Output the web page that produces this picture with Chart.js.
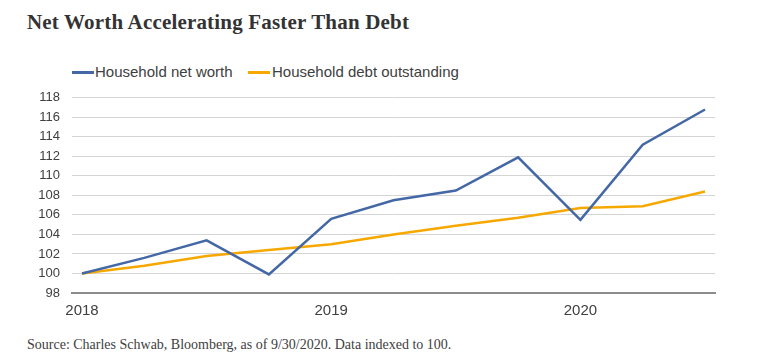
<!DOCTYPE html>
<html>
<head>
<meta charset="utf-8">
<script src="https://cdn.jsdelivr.net/npm/chart.js@4.4.0/dist/chart.umd.min.js"></script>
<style>
  html, body { margin: 0; padding: 0; background: #ffffff; }
  body { width: 770px; height: 356px; position: relative; overflow: hidden; }
  #title { position: absolute; left: 27px; top: 12px; font-family: "Liberation Serif", "DejaVu Serif", serif; font-weight: bold; font-size: 21px; letter-spacing: 0.18px; line-height: 21px; color: #333333; white-space: nowrap; }
  #legend { position: absolute; left: 0; top: 64px; height: 16px; font-family: "Liberation Sans", Arial, sans-serif; font-size: 15px; line-height: 15px; color: #404040; white-space: nowrap; }
  .lg { position: absolute; top: 0; }
  .sw { position: absolute; top: 7px; width: 22px; height: 2.5px; }
  #source { position: absolute; left: 27px; top: 338px; font-family: "Liberation Serif", "DejaVu Serif", serif; font-size: 14px; line-height: 14px; color: #404040; white-space: nowrap; }
  #wrap { position: absolute; left: 0; top: 78px; width: 770px; height: 252px; }
</style>
</head>
<body>
<div id="title">Net Worth Accelerating Faster Than Debt</div>
<div id="legend"></div>
<div id="wrap"><canvas id="c"></canvas></div>
<div id="source">Source: Charles Schwab, Bloomberg, as of 9/30/2020. Data indexed to 100.</div>
<script>
// ---- data (quarterly, indexed to 100) ----
const quarters = ['2018 Q1','2018 Q2','2018 Q3','2018 Q4','2019 Q1','2019 Q2','2019 Q3','2019 Q4','2020 Q1','2020 Q2','2020 Q3'];
const netWorth = [100.0, 101.6, 103.4, 99.9, 105.6, 107.5, 108.5, 111.9, 105.5, 113.2, 116.8];
const debtOutstanding = [100.0, 100.8, 101.8, 102.4, 103.0, 104.0, 104.9, 105.7, 106.7, 106.9, 108.4];
const seriesNames = ['Household net worth', 'Household debt outstanding'];
const seriesColors = ['#4467a6', '#f7a800'];
const yearLabels = ['2018', '2019', '2020'];
const yearTickIndex = [0, 4, 8];
const yTicks = [98, 100, 102, 104, 106, 108, 110, 112, 114, 116, 118];

// ---- legend (HTML) ----
const legend = document.getElementById('legend');
const legendX = [[72, 95], [248, 272]];
seriesNames.forEach((n, i) => {
  const sw = document.createElement('div');
  sw.className = 'sw';
  sw.style.left = legendX[i][0] + 'px';
  sw.style.background = seriesColors[i];
  legend.appendChild(sw);
  const t = document.createElement('div');
  t.className = 'lg';
  t.style.left = legendX[i][1] + 'px';
  t.textContent = n;
  legend.appendChild(t);
});

const toPts = arr => arr.map((y, i) => ({ x: i, y: y }));

new Chart(document.getElementById('c'), {
  type: 'line',
  data: {
    datasets: [
      { label: seriesNames[0], data: toPts(netWorth), borderColor: seriesColors[0], backgroundColor: seriesColors[0], borderWidth: 2.5, pointRadius: 0, tension: 0, fill: false },
      { label: seriesNames[1], data: toPts(debtOutstanding), borderColor: seriesColors[1], backgroundColor: seriesColors[1], borderWidth: 2.5, pointRadius: 0, tension: 0, fill: false }
    ]
  },
  options: {
    responsive: true,
    maintainAspectRatio: false,
    animation: false,
    events: [],
    layout: { padding: { left: 0, right: 55, top: 5, bottom: 0 } },
    plugins: { legend: { display: false }, title: { display: false }, tooltip: { enabled: false } },
    scales: {
      x: {
        type: 'linear',
        min: -0.1605,
        max: 10.16,
        afterBuildTicks: s => { s.ticks = yearTickIndex.map(v => ({ value: v })); },
        afterFit: s => { s.height = 37; },
        grid: { display: false, drawTicks: false },
        border: { display: true, color: '#8c8c8c', width: 2 },
        ticks: {
          padding: 9,
          autoSkip: false,
          maxRotation: 0,
          color: '#404040',
          font: { family: '"Liberation Sans", Arial, sans-serif', size: 15 },
          callback: v => { const k = yearTickIndex.indexOf(v); return k >= 0 ? yearLabels[k] : ''; }
        }
      },
      y: {
        min: 98,
        max: 118,
        afterBuildTicks: s => { s.ticks = yTicks.map(v => ({ value: v })); },
        afterFit: s => { s.width = 72; },
        grid: { color: '#d4d4d4', lineWidth: 1, drawTicks: false },
        border: { display: false },
        ticks: {
          padding: 12,
          color: '#404040',
          font: { family: '"Liberation Sans", Arial, sans-serif', size: 13 }
        }
      }
    }
  }
});
</script>
</body>
</html>
